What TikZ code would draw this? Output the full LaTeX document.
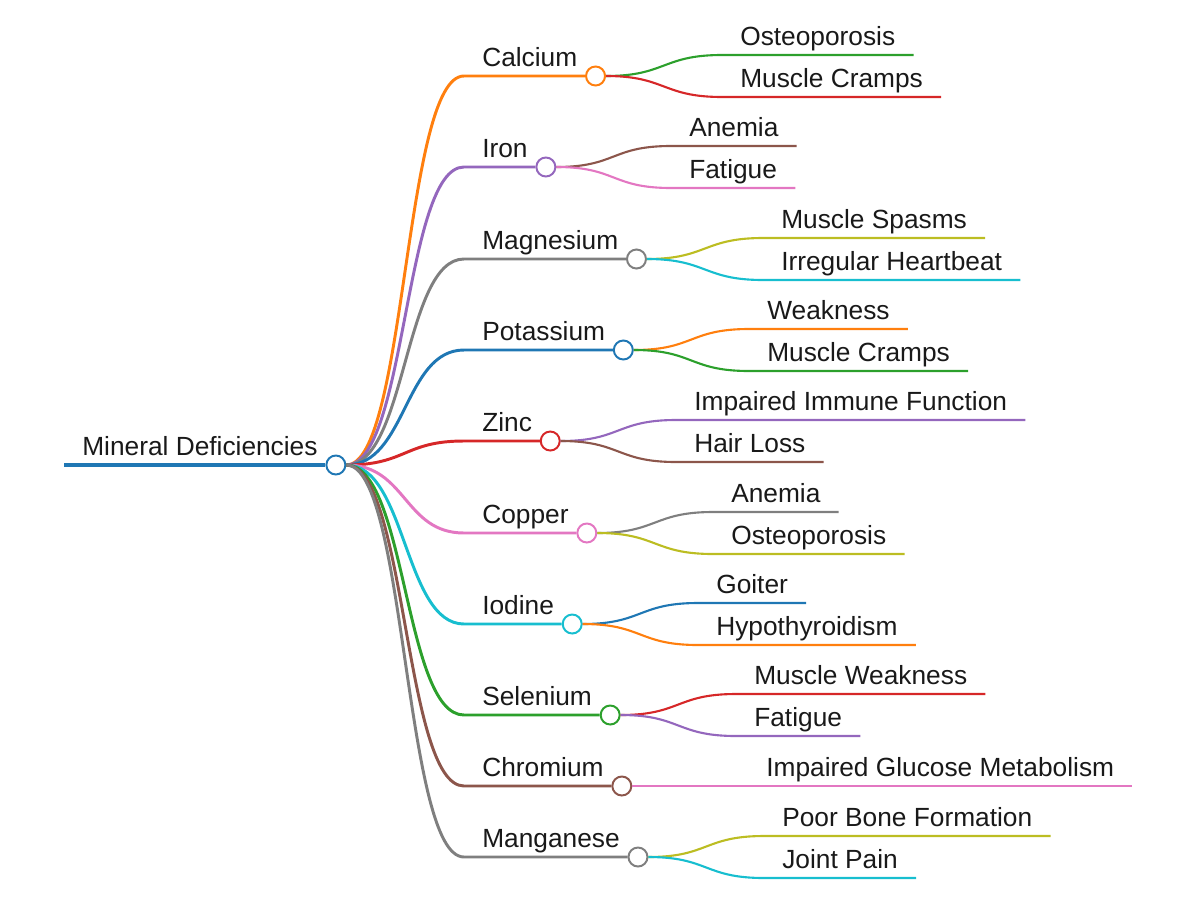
\documentclass[tikz,border=0pt]{standalone}
\usepackage{fontspec}
\setmainfont{Liberation Sans}
\definecolor{d3blue}{HTML}{1F77B4}
\definecolor{d3orange}{HTML}{FF7F0E}
\definecolor{d3green}{HTML}{2CA02C}
\definecolor{d3red}{HTML}{D62728}
\definecolor{d3purple}{HTML}{9467BD}
\definecolor{d3brown}{HTML}{8C564B}
\definecolor{d3pink}{HTML}{E377C2}
\definecolor{d3gray}{HTML}{7F7F7F}
\definecolor{d3olive}{HTML}{BCBD22}
\definecolor{d3cyan}{HTML}{17BECF}
\usetikzlibrary{positioning}

\begin{document}
\begin{tikzpicture}[
  x=0.025cm,y=-0.025cm,
  lbl/.style={anchor=south west,inner xsep=12.8pt,inner ysep=6.4pt,text depth=0pt,
    font=\fontsize{18.7}{22}\selectfont,text=black!90},
  knot/.style={circle,draw,fill=white,line width=1.4pt,minimum size=0.475cm,inner sep=0pt},
  curvy/.style={out=0,in=180,distance=1.5cm},
  mainline/.style={line width=3.5pt},
  subline/.style={line width=2.1pt},
  leafline/.style={line width=1.5pt}
]
  \useasboundingbox (0,0) rectangle (1200,900);
  % Root
  \node[lbl] (root) at (64,465) {Mineral Deficiencies};
  \node[knot,draw=d3blue] (rootK) at (root.south east) {};
  \draw[mainline,d3blue] (root.south west) -- (rootK);
  % Calcium
  \node[lbl] (calc) at (464,76) {Calcium};
  \node[knot,draw=d3orange] (calcK) at (calc.south east) {};
  \node[lbl] (calcA) at (722,55) {Osteoporosis};
  \node[lbl] (calcB) at (722,97) {Muscle Cramps};
  \draw[subline,d3orange] (rootK) to[curvy] (calc.south west) -- (calcK);
  \draw[leafline,d3green] (calcK) to[curvy] (calcA.south west) -- (calcA.south east);
  \draw[leafline,d3red] (calcK) to[curvy] (calcB.south west) -- (calcB.south east);
  % Iron
  \node[lbl] (iron) at (464,167) {Iron};
  \node[knot,draw=d3purple] (ironK) at (iron.south east) {};
  \node[lbl] (ironA) at (671,146) {Anemia};
  \node[lbl] (ironB) at (671,188) {Fatigue};
  \draw[subline,d3purple] (rootK) to[curvy] (iron.south west) -- (ironK);
  \draw[leafline,d3brown] (ironK) to[curvy] (ironA.south west) -- (ironA.south east);
  \draw[leafline,d3pink] (ironK) to[curvy] (ironB.south west) -- (ironB.south east);
  % Magnesium
  \node[lbl] (magn) at (464,259) {Magnesium};
  \node[knot,draw=d3gray] (magnK) at (magn.south east) {};
  \node[lbl] (magnA) at (763,238) {Muscle Spasms};
  \node[lbl] (magnB) at (763,280) {Irregular Heartbeat};
  \draw[subline,d3gray] (rootK) to[curvy] (magn.south west) -- (magnK);
  \draw[leafline,d3olive] (magnK) to[curvy] (magnA.south west) -- (magnA.south east);
  \draw[leafline,d3cyan] (magnK) to[curvy] (magnB.south west) -- (magnB.south east);
  % Potassium
  \node[lbl] (pota) at (464,350) {Potassium};
  \node[knot,draw=d3blue] (potaK) at (pota.south east) {};
  \node[lbl] (potaA) at (749,329) {Weakness};
  \node[lbl] (potaB) at (749,371) {Muscle Cramps};
  \draw[subline,d3blue] (rootK) to[curvy] (pota.south west) -- (potaK);
  \draw[leafline,d3orange] (potaK) to[curvy] (potaA.south west) -- (potaA.south east);
  \draw[leafline,d3green] (potaK) to[curvy] (potaB.south west) -- (potaB.south east);
  % Zinc
  \node[lbl] (zinc) at (464,441) {Zinc};
  \node[knot,draw=d3red] (zincK) at (zinc.south east) {};
  \node[lbl] (zincA) at (676,420) {Impaired Immune Function};
  \node[lbl] (zincB) at (676,462) {Hair Loss};
  \draw[subline,d3red] (rootK) to[curvy] (zinc.south west) -- (zincK);
  \draw[leafline,d3purple] (zincK) to[curvy] (zincA.south west) -- (zincA.south east);
  \draw[leafline,d3brown] (zincK) to[curvy] (zincB.south west) -- (zincB.south east);
  % Copper
  \node[lbl] (copp) at (464,533) {Copper};
  \node[knot,draw=d3pink] (coppK) at (copp.south east) {};
  \node[lbl] (coppA) at (713,512) {Anemia};
  \node[lbl] (coppB) at (713,554) {Osteoporosis};
  \draw[subline,d3pink] (rootK) to[curvy] (copp.south west) -- (coppK);
  \draw[leafline,d3gray] (coppK) to[curvy] (coppA.south west) -- (coppA.south east);
  \draw[leafline,d3olive] (coppK) to[curvy] (coppB.south west) -- (coppB.south east);
  % Iodine
  \node[lbl] (iodi) at (464,624) {Iodine};
  \node[knot,draw=d3cyan] (iodiK) at (iodi.south east) {};
  \node[lbl] (iodiA) at (698,603) {Goiter};
  \node[lbl] (iodiB) at (698,645) {Hypothyroidism};
  \draw[subline,d3cyan] (rootK) to[curvy] (iodi.south west) -- (iodiK);
  \draw[leafline,d3blue] (iodiK) to[curvy] (iodiA.south west) -- (iodiA.south east);
  \draw[leafline,d3orange] (iodiK) to[curvy] (iodiB.south west) -- (iodiB.south east);
  % Selenium
  \node[lbl] (sele) at (464,715) {Selenium};
  \node[knot,draw=d3green] (seleK) at (sele.south east) {};
  \node[lbl] (seleA) at (736,694) {Muscle Weakness};
  \node[lbl] (seleB) at (736,736) {Fatigue};
  \draw[subline,d3green] (rootK) to[curvy] (sele.south west) -- (seleK);
  \draw[leafline,d3red] (seleK) to[curvy] (seleA.south west) -- (seleA.south east);
  \draw[leafline,d3purple] (seleK) to[curvy] (seleB.south west) -- (seleB.south east);
  % Chromium
  \node[lbl] (chro) at (464,786) {Chromium};
  \node[knot,draw=d3brown] (chroK) at (chro.south east) {};
  \node[lbl] (chroA) at (748,786) {Impaired Glucose Metabolism};
  \draw[subline,d3brown] (rootK) to[curvy] (chro.south west) -- (chroK);
  \draw[leafline,d3pink] (chroK) -- (chroA.south west) -- (chroA.south east);
  % Manganese
  \node[lbl] (mang) at (464,857) {Manganese};
  \node[knot,draw=d3gray] (mangK) at (mang.south east) {};
  \node[lbl] (mangA) at (764,836) {Poor Bone Formation};
  \node[lbl] (mangB) at (764,878) {Joint Pain};
  \draw[subline,d3gray] (rootK) to[curvy] (mang.south west) -- (mangK);
  \draw[leafline,d3olive] (mangK) to[curvy] (mangA.south west) -- (mangA.south east);
  \draw[leafline,d3cyan] (mangK) to[curvy] (mangB.south west) -- (mangB.south east);
\end{tikzpicture}
\end{document}
